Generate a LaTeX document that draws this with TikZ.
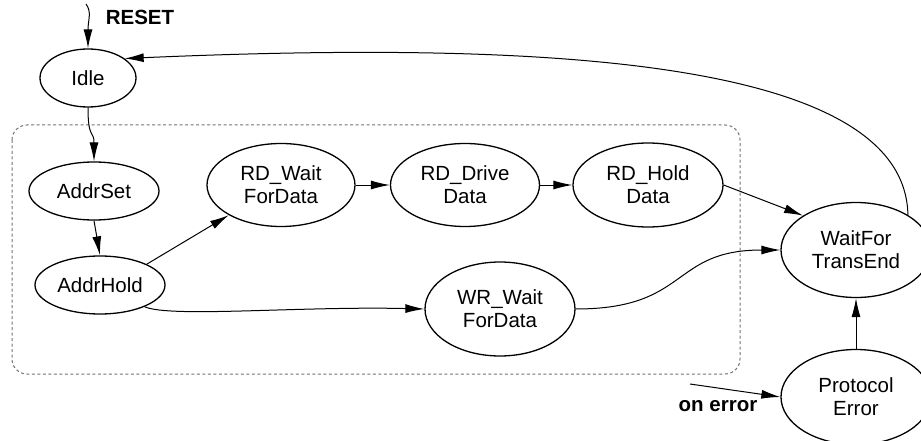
\documentclass[tikz,border=0pt]{standalone}
\usepackage{fontspec}
\setmainfont{Liberation Sans}
\usetikzlibrary{shapes.geometric,arrows.meta}
\begin{document}
\begin{tikzpicture}[x=1pt,y=-1pt,
  stnode/.style={ellipse, draw, line width=1.3pt, inner sep=0pt, align=center,
    font=\fontsize{20.5}{23}\selectfont},
  arr/.style={line width=1pt, -{Latex[length=19pt,width=9pt]}},
  lbl/.style={font=\fontsize{20.5}{23}\selectfont\bfseries, inner sep=0pt}]
\useasboundingbox (0,0) rectangle (921,441);
\clip (0,0) rectangle (921,441);
% group
\draw[black!55, line width=1pt, dash pattern=on 3pt off 2.5pt, rounded corners=15pt]
  (12,125) rectangle (740,374);
% states
\node[stnode, minimum width=96pt, minimum height=58pt] (idle) at (88,78) {Idle};
\node[stnode, minimum width=130pt, minimum height=58pt] (addrset) at (94,191) {AddrSet};
\node[stnode, minimum width=130pt, minimum height=58pt] (addrhold) at (100,285) {AddrHold};
\node[stnode, minimum width=148pt, minimum height=83pt] (rdwait) at (281,185) {RD\_Wait\\ForData};
\node[stnode, minimum width=149pt, minimum height=83pt] (rddrive) at (465,185) {RD\_Drive\\Data};
\node[stnode, minimum width=150pt, minimum height=84pt] (rdhold) at (648,185) {RD\_Hold\\Data};
\node[stnode, minimum width=150pt, minimum height=94pt] (wrwait) at (500,309) {WR\_Wait\\ForData};
\node[stnode, minimum width=150pt, minimum height=95pt] (waitfor) at (856,250) {WaitFor\\TransEnd};
\node[stnode, minimum width=150pt, minimum height=95pt] (protocol) at (856,397) {Protocol\\Error};
% labels
\node[lbl] (resetlbl) at (140,17) {RESET};
\node[lbl] (onerrlbl) at (718,406) {on error};
\coordinate (reset) at (86,4);
\coordinate (onerr) at (690,384);
% connectors
\draw[arr] (reset) .. controls (92,12) and (88,20) .. (idle.north);
\draw[arr] (idle.south) .. controls (88,140) and (94,130) .. (addrset.north);
\draw[arr] (addrset.south) -- (addrhold.north);
\draw[arr] (addrhold.24) -- (rdwait.210);
\draw[arr] (rdwait.east) -- (rddrive.west);
\draw[arr] (rddrive.east) -- (rdhold.west);
\draw[arr] (rdhold.east) -- (waitfor.147);
\draw[arr] (addrhold.-26) .. controls (170,318) and (300,306) .. (wrwait.west);
\draw[arr] (wrwait.east) .. controls (690,309) and (670,250) .. (waitfor.west);
\draw[arr] (protocol.north) -- (waitfor.south);
\draw[arr] (onerr) -- (protocol.west);
\draw[arr] (waitfor.34) .. controls (905,60) and (550,40) .. (idle.28);
\end{tikzpicture}
\end{document}
